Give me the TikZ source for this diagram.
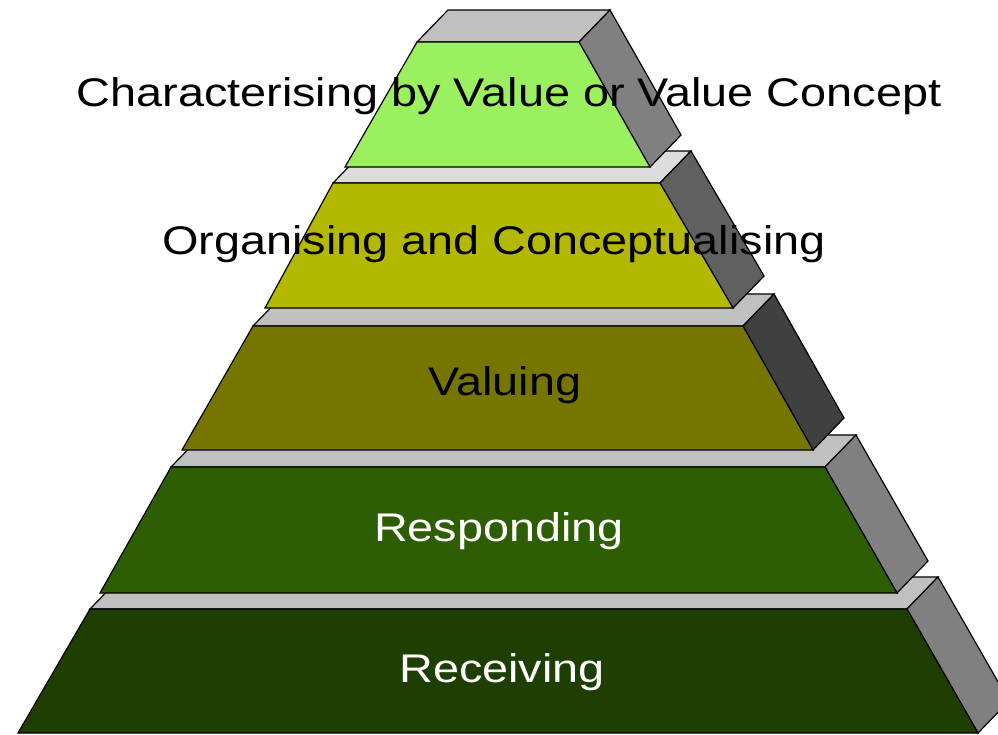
\documentclass[tikz,border=0pt]{standalone}
\usepackage{fontspec}
\setmainfont{Liberation Sans}
\newfontfamily\levelfont[FakeStretch=1.17]{Liberation Sans}
\usepackage{tikz}
\definecolor{lvlone}{RGB}{155,240,96}
\definecolor{lvltwo}{RGB}{181,184,0}
\definecolor{lvlthree}{RGB}{117,117,0}
\definecolor{lvlfour}{RGB}{46,94,4}
\definecolor{lvlfive}{RGB}{30,62,2}
\definecolor{topgray}{RGB}{192,192,192}
\definecolor{toplight}{RGB}{221,221,221}
\definecolor{sidegray}{RGB}{128,128,128}
\definecolor{sidedark}{RGB}{96,96,96}
\definecolor{sidedeep}{RGB}{64,64,64}
\tikzstyle{face} = [draw=black, line width=1.2pt, line join=miter]
\tikzstyle{level} = [font=\levelfont\fontsize{40}{44}\selectfont, inner sep=0pt, anchor=base]

\begin{document}
\begin{tikzpicture}[x=1pt, y=-1pt]
% Frame
\clip (0,0) rectangle (998,734);

% Slabs, bottom one first so the upper ones sit on top
\foreach \yt/\yb/\tl/\tr/\bl/\br/\fc/\sc/\tc in {
    609/733/90/907/18/978/lvlfive/sidegray/topgray,
    467/593/171/825/100/897/lvlfour/sidegray/topgray,
    326/450/253/743/182/813/lvlthree/sidedeep/topgray,
    183/308/333/660/265/733/lvltwo/sidedark/toplight,
    42/167/417/579/345/650/lvlone/sidegray/topgray}{
  % top face
  \filldraw[face, fill=\tc] (\tl,\yt) -- ++(31,-32) -- (\tr+31,\yt-32) -- (\tr,\yt) -- cycle;
  % side face
  \filldraw[face, fill=\sc] (\tr,\yt) -- ++(31,-32) -- (\br+31,\yb-32) -- (\br,\yb) -- cycle;
  % front face
  \filldraw[face, fill=\fc] (\tl,\yt) -- (\tr,\yt) -- (\br,\yb) -- (\bl,\yb) -- cycle;
}

% Labels
\node[level] (charac) at (509,106) {Characterising by Value or Value Concept};
\node[level] (organ) at (494,254) {Organising and Conceptualising};
\node[level] (valuing) at (505,395) {Valuing};
\node[level, white] (respond) at (499,541) {Responding};
\node[level, white] (receive) at (502,682) {Receiving};
\end{tikzpicture}
\end{document}
